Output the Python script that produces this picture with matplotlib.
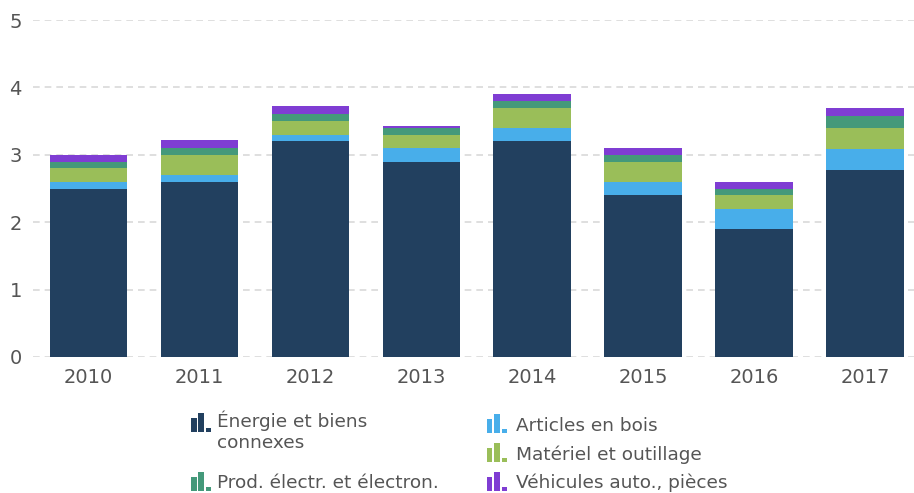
import matplotlib
matplotlib.use("Agg")
import matplotlib.pyplot as plt
from matplotlib.patches import Rectangle
import numpy as np

years = ["2010", "2011", "2012", "2013", "2014", "2015", "2016", "2017"]
energie = [2.5, 2.6, 3.2, 2.9, 3.2, 2.4, 1.9, 2.78]
bois = [0.1, 0.1, 0.1, 0.2, 0.2, 0.2, 0.3, 0.3]
materiel = [0.2, 0.3, 0.2, 0.2, 0.3, 0.3, 0.2, 0.32]
electr = [0.1, 0.1, 0.1, 0.1, 0.1, 0.1, 0.1, 0.18]
vehicules = [0.1, 0.12, 0.12, 0.03, 0.1, 0.1, 0.1, 0.12]

series = [energie, bois, materiel, electr, vehicules]
colors = ["#22405f", "#48aeea", "#9abe59", "#44997a", "#7f3dd3"]
labels = [["Énergie et biens", "connexes"], ["Articles en bois"], ["Matériel et outillage"],
          ["Prod. électr. et électron."], ["Véhicules auto., pièces"]]

W, H = 914, 493
fig = plt.figure(figsize=(W / 100, H / 100), dpi=100)
ax = fig.add_axes([33 / W, (H - 357) / H, (914 - 33) / W, (357 - 20) / H])

x = np.arange(len(years))
bottom = np.zeros(len(years))
for vals, c in zip(series, colors):
    ax.bar(x, vals, 0.7, bottom=bottom, color=c, zorder=3)
    bottom += np.array(vals)

ax.set_xlim(-0.5, 7.44)
ax.set_ylim(0, 5)
ax.set_yticks([0, 1, 2, 3, 4, 5])
ax.set_xticks(x)
ax.set_xticklabels(years)
ax.yaxis.grid(True, color="#d9d9d9", linestyle=(0, (4, 3)), linewidth=1.2, zorder=0)
for s in ax.spines.values():
    s.set_visible(False)
ax.tick_params(length=0, labelsize=14, colors="#555555")
ax.tick_params(axis="x", pad=8)
ax.tick_params(axis="y", pad=8)


def icon(px, py, c):
    # three little bars, py = bottom pixel (from top of image)
    hs = [14, 19, 4]
    for i, h in enumerate(hs):
        fig.add_artist(Rectangle(((px + i * 7.3) / W, (H - py) / H), 5.5 / W, h / H,
                                 transform=fig.transFigure, color=c, linewidth=0))


# icon x, icon bottom, text x, text baseline
legend_pos = [(191, 432, 217, 427), (487, 433, 516, 431), (487, 462, 516, 460),
              (191, 491, 217, 488), (487, 491, 516, 488)]
for (ix, iy, tx, ty), lab, c in zip(legend_pos, labels, colors):
    icon(ix, iy, c)
    for k, line in enumerate(lab):
        fig.text(tx / W, (H - ty - 21 * k) / H, line, fontsize=13.3, color="#555555",
                 va="baseline", ha="left")

fig.savefig("out.png", dpi=100)
